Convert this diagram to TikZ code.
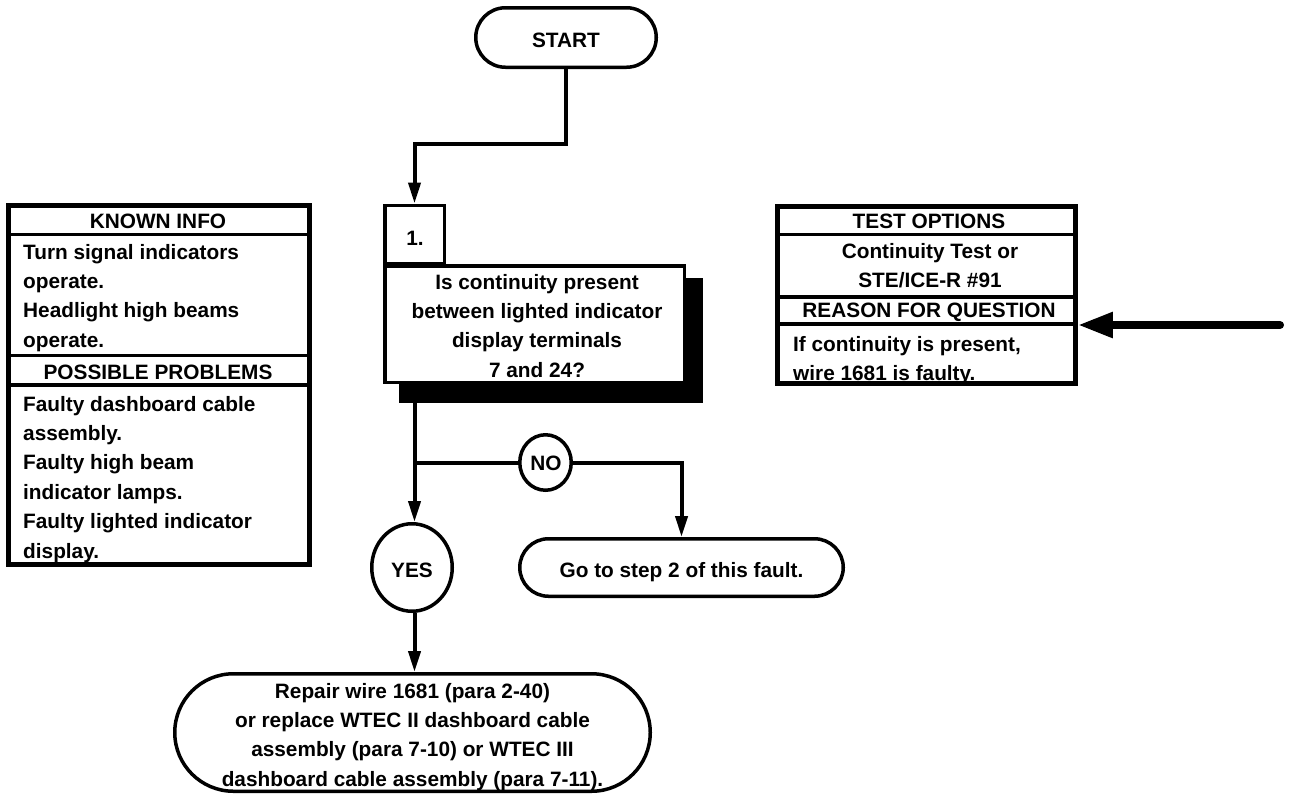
\documentclass[tikz,border=0pt]{standalone}
\usepackage{fontspec}
\setmainfont{Liberation Sans}
\usetikzlibrary{arrows.meta,shapes.geometric,shapes.misc}
\tikzset{
  txt/.style={font=\fontsize{20.8}{29.4}\selectfont\bfseries, inner sep=0pt},
  sect/.style={draw, fill=white, line width=3.5pt, rectangle, inner sep=0pt, minimum width=#1},
  sect/.default=301pt,
  frame/.style={draw, line width=4.5pt, rectangle, inner sep=0pt},
  pill/.style={draw, fill=white, line width=3.5pt, rounded rectangle, inner sep=0pt},
  oval/.style={draw, fill=white, line width=3.5pt, ellipse, inner sep=0pt},
  conn/.style={line width=4pt},
  tip/.style={-{Triangle[length=21pt,width=12pt]}}
}
\begin{document}
\begin{tikzpicture}[x=1pt,y=-1pt]
\useasboundingbox (0,0) rectangle (1289,796);

% ---------- KNOWN INFO panel ----------
\node[sect, minimum height=29pt] (kh) at (159,220) {};
\node[sect, minimum height=121pt] (kc) at (159,295) {};
\node[sect, minimum height=29.5pt] (ph) at (159,370.25) {};
\node[sect, minimum height=179.5pt] (pc) at (159,474.75) {};
\node[frame, minimum width=301pt, minimum height=359pt] (kframe) at (159,385) {};
\node[txt, anchor=base] (khtext) at (158,228) {KNOWN INFO};
\node[txt, anchor=north west, align=left] (kctext) at (23,238.4)
  {\strut Turn signal indicators\\operate.\\Headlight high beams\\operate.};
\node[txt, anchor=base] (phtext) at (158,379) {POSSIBLE PROBLEMS};
\node[txt, anchor=north west, align=left] (pctext) at (23,390.4)
  {\strut Faulty dashboard cable\\assembly.\\Faulty high beam\\indicator lamps.\\Faulty lighted indicator\\display.};

% ---------- TEST OPTIONS panel ----------
\node[sect=298pt, minimum height=28pt] (th) at (926.5,220.5) {};
\node[sect=298pt, minimum height=62.5pt] (tc) at (926.5,265.75) {};
\node[sect=298pt, minimum height=27pt] (rh) at (926.5,310.5) {};
\node[sect=298pt, minimum height=59.5pt] (rc) at (926.5,353.75) {};
\node[frame, minimum width=298pt, minimum height=177pt] (tframe) at (926.5,295) {};
\node[txt, anchor=base] (thtext) at (929,228) {TEST OPTIONS};
\node[txt, anchor=north, align=center] (tctext) at (930,237.4)
  {\strut Continuity Test or\\STE/ICE-R \#91};
\node[txt, anchor=base] (rhtext) at (929,317) {REASON FOR QUESTION};
\node[txt, anchor=north west, align=left] (rctext) at (793,330.4)
  {\strut If continuity is present,\\wire 1681 is faulty.};

% ---------- flow ----------
\node[pill, minimum width=180.5pt, minimum height=59.5pt] (start) at (566,37.5) {};
\node[txt, anchor=base] (starttext) at (566,47) {START};

\node[fill=black, rectangle, inner sep=0pt, minimum width=304pt, minimum height=125pt] (shadow) at (551,340.5) {};
\node[sect=299.5pt, minimum height=116.5pt] (qbox) at (534.5,324) {};
\node[sect=59.5pt, minimum height=58.5pt] (num) at (414.5,234.5) {};
\node[txt, anchor=base] (numtext) at (415,245) {1.};
\node[txt, anchor=north, align=center] (qtext) at (537,268.4)
  {\strut Is continuity present\\between lighted indicator\\display terminals\\7 and 24?};

\node[oval, minimum width=51.5pt, minimum height=55.5pt] (no) at (545.5,462.5) {};
\node[txt, anchor=base] (notext) at (546,470) {NO};
\node[oval, minimum width=80.5pt, minimum height=87.5pt] (yes) at (412,567.5) {};
\node[txt, anchor=base] (yestext) at (412,577) {YES};

\node[pill, minimum width=323.5pt, minimum height=57.5pt] (go) at (681.5,567.5) {};
\node[txt, anchor=base] (gotext) at (681.5,577) {Go to step 2 of this fault.};

\node[pill, minimum width=475.5pt, minimum height=117.5pt] (rep) at (412.5,732.5) {};
\node[txt, anchor=north, align=center] (reptext) at (412.5,677.4)
  {\strut Repair wire 1681 (para 2-40)\\or replace WTEC II dashboard cable\\assembly (para 7-10) or WTEC III\\dashboard cable assembly (para 7-11).};

% ---------- connectors ----------
\draw[conn,tip] (start.south) -- ++(0,75) -| (num.north);
\draw[conn,tip] (qbox.south -| num) -- (yes.north -| num);
\draw[conn] (num |- no) -- (no.west);
\draw[conn,tip] (no.east) -| (go.north);
\draw[conn,tip] (yes.south -| num) -- (rep.north -| num);

\coordinate (rtail) at (1280,325);
\draw[line width=8pt, line cap=round, -{Triangle[length=35pt,width=24pt]}] (rtail) -- (rtail -| tframe.east);
\end{tikzpicture}
\end{document}
